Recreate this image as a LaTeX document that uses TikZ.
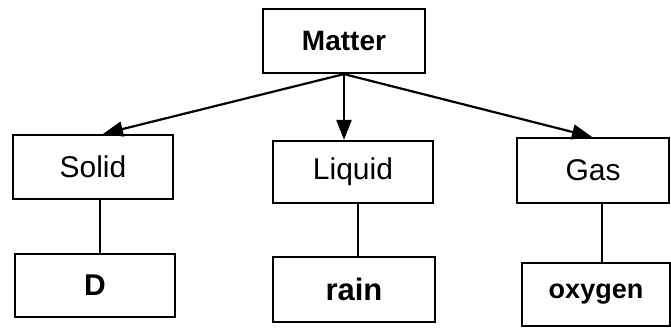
\documentclass[tikz,border=0pt]{standalone}
\usepackage{fontspec}
\setmainfont{Liberation Sans}
\usetikzlibrary{arrows.meta}
\begin{document}
\begin{tikzpicture}[x=1pt,y=1pt,
  box/.style={draw,line width=2.2pt,minimum width=#1,inner sep=0pt,font=\fontsize{30}{32}\selectfont},
  box/.default=160pt,
  link/.style={line width=2.2pt},
  arr/.style={link,-{Triangle[length=20pt,width=15pt]}}]
  \useasboundingbox (0,0) rectangle (671,327);
  % top level
  \node[box=162pt,minimum height=64pt,font=\fontsize{28}{30}\selectfont\bfseries] (matter) at (344,286) {Matter};
  % states of matter
  \node[box=160pt,minimum height=64pt] (solid) at (93,160) {Solid};
  \node[box=160pt,minimum height=62pt] (liquid) at (353,155) {Liquid};
  \node[box=152pt,minimum height=65pt] (gas) at (593,156.5) {Gas};
  % examples
  \node[box=160pt,minimum height=63pt,font=\fontsize{30}{32}\selectfont\bfseries] (d) at (95,41.5) {D};
  \node[box=162pt,minimum height=65pt,font=\fontsize{31}{33}\selectfont\bfseries] (rain) at (354,37.5) {rain};
  \node[box=148pt,minimum height=63pt,font=\fontsize{27}{29}\selectfont\bfseries] (oxygen) at (596,32.5) {oxygen};
  % arrows from Matter
  \draw[arr] (matter.south) -- ([xshift=10pt]solid.north);
  \draw[arr] (matter.south) -- (matter.south |- liquid.north);
  \draw[arr] (matter.south) -- ([xshift=-1pt]gas.north);
  % plain links to the examples
  \draw[link] ([xshift=7pt]solid.south) -- ([xshift=7pt]solid.south |- d.north);
  \draw[link] ([xshift=5pt]liquid.south) -- ([xshift=5pt]liquid.south |- rain.north);
  \draw[link] ([xshift=9pt]gas.south) -- ([xshift=9pt]gas.south |- oxygen.north);
\end{tikzpicture}
\end{document}
